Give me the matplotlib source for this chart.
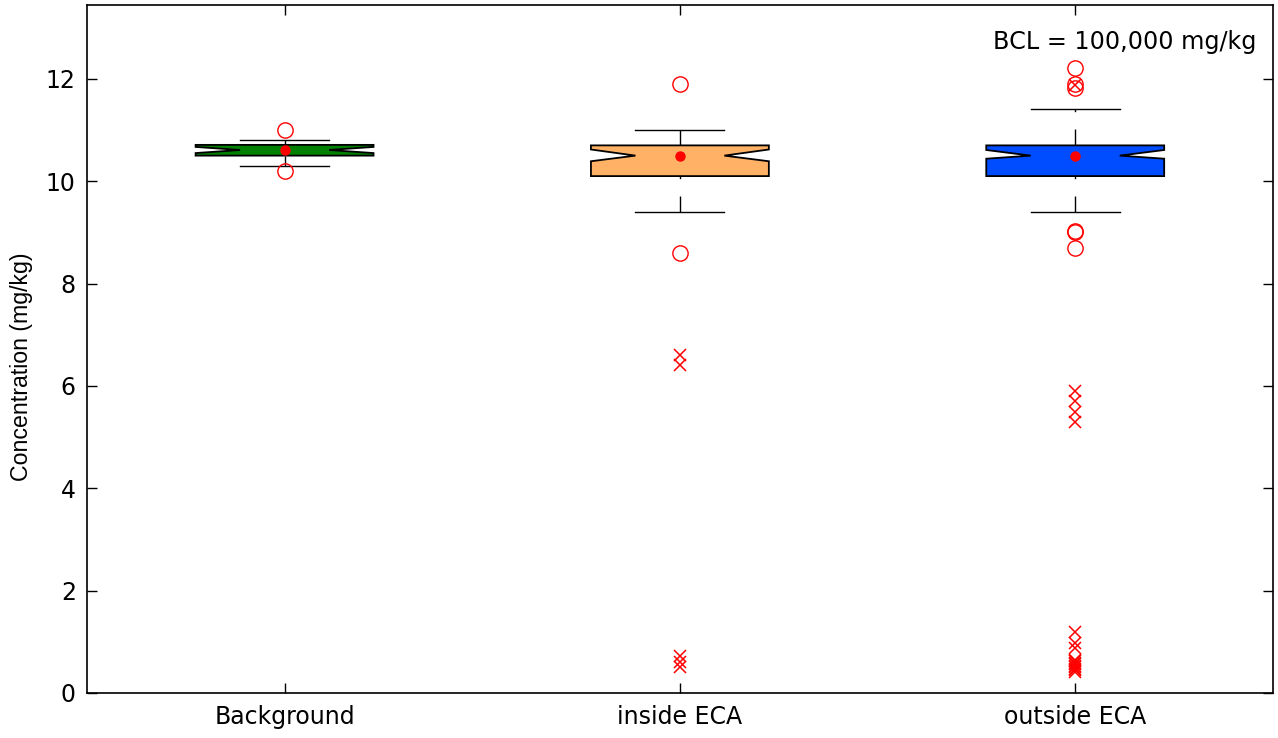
import matplotlib
matplotlib.use("Agg")
import matplotlib.pyplot as plt

groups = ["Background", "inside ECA", "outside ECA"]
colors = ["#008000", "#FFB266", "#004DFF"]
q1 = [10.50, 10.10, 10.10]
q3 = [10.71, 10.70, 10.70]
medians = [10.61, 10.50, 10.50]
ci_lo = [10.55, 10.39, 10.44]
ci_hi = [10.67, 10.62, 10.61]
whisk_lo = [10.30, 9.40, 9.40]
whisk_hi = [10.80, 11.00, 11.41]
means = [10.61, 10.50, 10.50]
outliers = [[11.0, 10.2],
            [11.9, 8.6],
            [12.22, 11.89, 11.82, 9.02, 9.0, 8.7]]
extremes = [[],
            [6.6, 6.4, 0.72, 0.6, 0.5],
            [11.88, 5.9, 5.7, 5.5, 5.3, 1.2, 0.97, 0.87,
             0.65, 0.62, 0.59, 0.56, 0.53, 0.5, 0.47, 0.44, 0.41]]
positions = [1, 2, 3]

stats = []
for i in range(len(groups)):
    stats.append(dict(label=groups[i], med=medians[i], q1=q1[i], q3=q3[i],
                      cilo=ci_lo[i], cihi=ci_hi[i], whislo=whisk_lo[i],
                      whishi=whisk_hi[i], mean=means[i], fliers=outliers[i]))

fig = plt.figure(figsize=(12.78, 7.38), dpi=100)
ax = fig.add_axes([0.068, 0.061, 0.928, 0.932])

bp = ax.bxp(stats, positions=positions, widths=0.45, shownotches=True,
            showmeans=True, patch_artist=True,
            boxprops=dict(edgecolor="black", linewidth=1.3),
            whiskerprops=dict(color="black", linewidth=1.0, linestyle=(0, (11.5, 12.5))),
            capprops=dict(color="black", linewidth=1.0),
            medianprops=dict(linewidth=0),
            meanprops=dict(marker="o", markerfacecolor="red", markeredgecolor="red", markersize=6.5),
            flierprops=dict(marker="o", markerfacecolor="none", markeredgecolor="red",
                            markersize=11, markeredgewidth=1.0))

for patch, c in zip(bp["boxes"], colors):
    patch.set_facecolor(c)

# lower whiskers start their dash pattern at the cap
for w in bp["whiskers"][0::2]:
    w.set_ydata(w.get_ydata()[::-1])

for pos, ys in zip(positions, extremes):
    if ys:
        ax.plot([pos] * len(ys), ys, "x", color="red", markersize=8.5, markeredgewidth=1.1)

ax.set_xlim(0.5, 3.5)
ax.set_ylim(0, 13.44)
ax.set_yticks([0, 2, 4, 6, 8, 10, 12])
ax.set_xticks(positions)
ax.set_xticklabels(groups)
ax.tick_params(direction="in", length=7, top=True, right=True, labelsize=17, width=1)
ax.tick_params(axis="y", pad=8)
ax.tick_params(axis="x", pad=9)
for s in ax.spines.values():
    s.set_linewidth(1.2)

ax.set_ylabel("Concentration (mg/kg)", fontsize=16.7, family="Liberation Sans")
ax.yaxis.set_label_coords(-0.0455, 0.475)
ax.text(0.9857, 0.936, "BCL = 100,000 mg/kg", transform=ax.transAxes,
        ha="right", va="baseline", fontsize=17.2)

fig.savefig("out.png", dpi=100)
